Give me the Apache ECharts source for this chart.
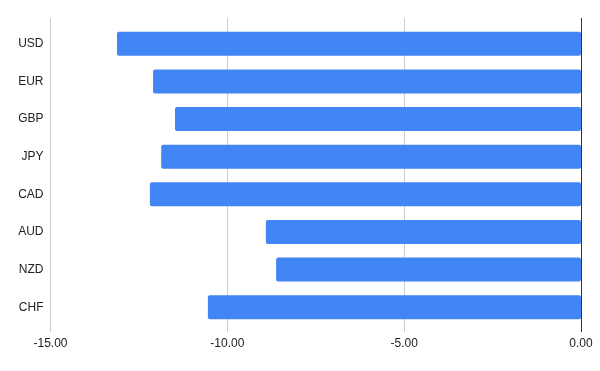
<!DOCTYPE html>
<html>
<head>
<meta charset="utf-8">
<script src="https://cdn.jsdelivr.net/npm/echarts@6/dist/echarts.min.js"></script>
<style>
html,body{margin:0;padding:0;background:#fff;}
#c{width:600px;height:371px;}
</style>
</head>
<body>
<div id="c"></div>
<script>
var categories = ['USD','EUR','GBP','JPY','CAD','AUD','NZD','CHF'];
var values = [-13.12,-12.10,-11.48,-11.87,-12.19,-8.91,-8.62,-10.55];
var xMin = -15, xMax = 0, xInterval = 5;

var chart = echarts.init(document.getElementById('c'), null, {renderer:'canvas'});
var font = 'Arial, "Liberation Sans", sans-serif';
chart.setOption({
  animation:false,
  grid:[
    {left:50.5, right:19, top:18, bottom:39},
    {left:50.5, right:19, top:25, bottom:45}
  ],
  xAxis:[
    {gridIndex:0, type:'value', min:xMin, max:xMax, interval:xInterval,
     axisLine:{show:false}, axisTick:{show:false},
     splitLine:{show:true, lineStyle:{color:['#cccccc','#cccccc','#cccccc','#333333'], width:1}},
     axisLabel:{color:'#222', fontSize:12, fontFamily:font, margin:6,
       formatter:function(v){return v.toFixed(2);}}},
    {gridIndex:1, type:'value', min:xMin, max:xMax, interval:xInterval, show:false}
  ],
  yAxis:[
    {gridIndex:0, type:'value', show:false},
    {gridIndex:1, type:'category', data:categories, inverse:true,
     axisLine:{show:false}, axisTick:{show:false}, splitLine:{show:false},
     axisLabel:{color:'#222', fontSize:12, fontFamily:font, margin:7}}
  ],
  series:[{
    type:'bar', xAxisIndex:1, yAxisIndex:1, data:values,
    barWidth:24,
    itemStyle:{color:'#4285F4', borderRadius:2}
  }]
});
</script>
</body>
</html>
